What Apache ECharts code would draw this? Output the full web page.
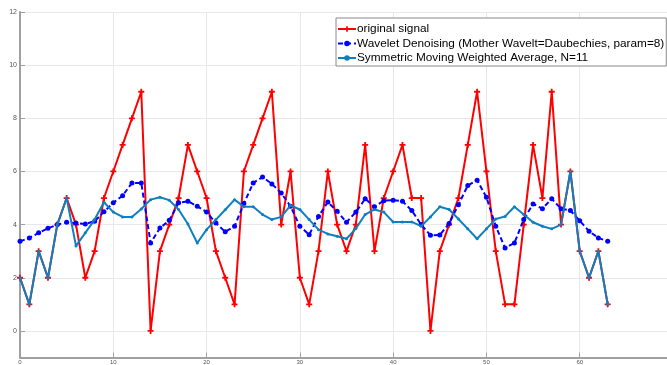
<!DOCTYPE html>
<html>
<head>
<meta charset="utf-8">
<script src="https://cdn.jsdelivr.net/npm/echarts@6/dist/echarts.min.js"></script>
<style>
  html, body { margin: 0; padding: 0; background: #fff; }
  #chart { width: 667px; height: 365px; }
</style>
</head>
<body>
<div id="chart"></div>
<script>
// Sample index 0..63
const sampleIndex = Array.from({ length: 64 }, (_, i) => i);

// Raw signal
const originalSignal = [2, 1, 3, 2, 4, 5, 4, 2, 3, 5, 6, 7, 8, 9, 0, 3, 4, 5, 7, 6, 5, 3, 2, 1,
  6, 7, 8, 9, 4, 6, 2, 1, 3, 6, 4, 3, 4, 7, 3, 5, 6, 7, 5, 5, 0, 3, 4, 5, 7, 9, 6, 3, 1, 1,
  4, 7, 5, 9, 4, 6, 3, 2, 3, 1];

// Wavelet denoised signal (db8)
const waveletDenoised = [3.37, 3.50, 3.69, 3.86, 4.00, 4.09, 4.06, 4.02, 4.13, 4.48, 4.82, 5.09,
  5.57, 5.57, 3.31, 3.87, 4.16, 4.82, 4.88, 4.69, 4.47, 4.06, 3.73, 3.94, 4.79, 5.57, 5.79,
  5.53, 5.19, 4.69, 3.94, 3.62, 4.31, 4.85, 4.50, 4.09, 4.47, 4.97, 4.67, 4.90, 4.92, 4.88,
  4.53, 4.00, 3.60, 3.61, 4.04, 4.75, 5.47, 5.67, 5.03, 3.94, 3.12, 3.31, 4.19, 4.78, 4.60,
  4.97, 4.60, 4.53, 4.15, 3.75, 3.50, 3.37];

// Symmetric moving weighted average, N = 11
const movingAverage = [2, 1, 3, 2, 4, 5, 3.20, 3.69, 4.19, 4.84, 4.47, 4.29, 4.29, 4.59, 4.94,
  5.03, 4.92, 4.57, 4.02, 3.31, 3.81, 4.19, 4.56, 4.94, 4.67, 4.67, 4.38, 4.19, 4.29, 4.72,
  4.57, 4.19, 3.81, 3.65, 3.56, 3.47, 3.85, 4.38, 4.57, 4.47, 4.10, 4.10, 4.10, 3.94, 4.29,
  4.67, 4.57, 4.21, 3.84, 3.47, 3.84, 4.21, 4.31, 4.67, 4.38, 4.09, 3.94, 3.84, 4.00, 6, 3,
  2, 3, 1];

const seriesNames = [
  'original signal',
  'Wavelet Denoising (Mother Wavelt=Daubechies, param=8)',
  'Symmetric Moving Weighted Average, N=11'
];

const yTickValues = [0, 2, 4, 6, 8, 10, 12];

const pair = (ys) => sampleIndex.map((x, i) => [x, ys[i]]);

// bold plus marker
const plusPath = 'path://M3.5,0H6.5V3.5H10V6.5H6.5V10H3.5V6.5H0V3.5H3.5Z';

const chart = echarts.init(document.getElementById('chart'), null, { renderer: 'canvas' });

chart.setOption({
  animation: false,
  backgroundColor: '#ffffff',
  // plot area runs past the right edge of the canvas
  grid: { left: 20, width: 653, top: 12, height: 345.5, containLabel: false, outerBoundsMode: 'none' },
  xAxis: {
    type: 'value',
    min: 0,
    max: 70,
    interval: 10,
    axisLine: { show: true, onZero: false, lineStyle: { color: '#a0a0a0', width: 2 } },
    axisTick: { show: true, inside: true, length: 5, lineStyle: { color: '#a0a0a0', width: 1 } },
    axisLabel: { fontSize: 6, color: '#555', margin: 2, fontFamily: 'Liberation Sans' },
    splitLine: { show: true, lineStyle: { color: '#e8e8e8', width: 1 } }
  },
  yAxis: {
    type: 'value',
    min: -1,
    max: 12,
    axisLine: { show: true, onZero: false, lineStyle: { color: '#a0a0a0', width: 2 } },
    axisTick: { show: true, inside: true, length: 5, customValues: yTickValues, lineStyle: { color: '#a0a0a0', width: 1 } },
    axisLabel: { fontSize: 7, color: '#555', margin: 3, customValues: yTickValues, fontFamily: 'Liberation Sans' },
    splitLine: { show: true, lineStyle: { color: '#e8e8e8', width: 1 } }
  },
  legend: {
    orient: 'vertical',
    left: 336,
    top: 18,
    padding: [5, 2, 2, 1],
    itemGap: 2.5,
    itemWidth: 18,
    itemHeight: 7,
    backgroundColor: '#fff',
    borderColor: '#8a8a8a',
    borderWidth: 1,
    borderRadius: 0,
    textStyle: { fontSize: 11.8, color: '#000', fontFamily: 'Liberation Sans', padding: [0, 0, 0, -4] },
    data: seriesNames
  },
  series: [
    {
      name: seriesNames[0],
      type: 'line',
      data: pair(originalSignal),
      symbol: plusPath,
      symbolSize: 6,
      showAllSymbol: true,
      lineStyle: { color: '#ff0000', width: 2 },
      itemStyle: { color: '#ff0000' },
      z: 2
    },
    {
      name: seriesNames[1],
      type: 'line',
      data: pair(waveletDenoised),
      symbol: 'circle',
      symbolSize: 5,
      showAllSymbol: true,
      lineStyle: { color: '#0000ff', width: 2, type: [5, 3] },
      itemStyle: { color: '#0000ff' },
      z: 3
    },
    {
      name: seriesNames[2],
      type: 'line',
      data: pair(movingAverage),
      symbol: 'circle',
      symbolSize: 3,
      showAllSymbol: true,
      lineStyle: { color: '#0e7fbf', width: 2 },
      itemStyle: { color: '#0e7fbf' },
      z: 4
    }
  ]
});
</script>
</body>
</html>
